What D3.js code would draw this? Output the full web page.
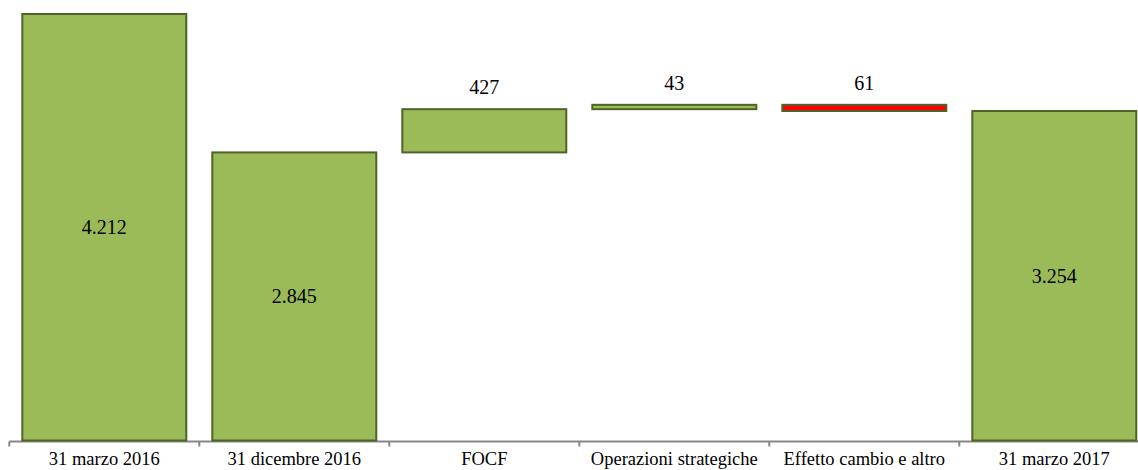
<!DOCTYPE html>
<html>
<head>
<meta charset="utf-8">
<script src="https://cdn.jsdelivr.net/npm/d3@7"></script>
<style>
  body { margin: 0; background: #fff; }
</style>
</head>
<body>
<script>
// waterfall: totals start at 0, deltas float on the running total
var categories = ["31 marzo 2016", "31 dicembre 2016", "FOCF", "Operazioni strategiche", "Effetto cambio e altro", "31 marzo 2017"];
var values = [4212, 2845, 427, 43, -61, 3254];
var kinds = ["total", "total", "delta", "delta", "delta", "total"];

var w = 1138;
var h = 470;
var serif = "'Liberation Serif', 'Times New Roman', serif";

var it = d3.formatLocale({decimal: ",", thousands: ".", grouping: [3], currency: ["", "€"]});
var fmt = it.format(",d");

var bars = [];
var running = 0;
values.forEach(function(v, i) {
  var b = {name: categories[i], value: v, kind: kinds[i]};
  if (kinds[i] == "total") {
    b.start = 0; b.end = v; running = v;
  } else {
    b.start = running; b.end = running + v; running = b.end;
  }
  bars.push(b);
});

var svg = d3.select("body")
  .append("svg")
  .attr("width", w)
  .attr("height", h);

var x = d3.scaleBand()
  .domain(categories)
  .range([9.3, 9.3 + 190 * categories.length])
  .paddingInner(0.137)
  .paddingOuter(0.0685);

var y = d3.scaleLinear()
  .domain([0, 4212])
  .range([440.5, 14]);

// axis line + ticks between categories
var gx = svg.append("g").attr("transform", "translate(0,441.5)");
gx.append("line")
  .attr("x1", 9.3).attr("x2", w)
  .attr("stroke", "#878787").attr("stroke-width", 2);
gx.selectAll(".tk")
  .data(categories)
  .enter()
  .append("line")
  .attr("x1", function(d) { return x(d) - x.step() * x.paddingInner() / 2; })
  .attr("x2", function(d) { return x(d) - x.step() * x.paddingInner() / 2; })
  .attr("y1", 0).attr("y2", 5)
  .attr("stroke", "#878787").attr("stroke-width", 2);

svg.selectAll("rect")
  .data(bars)
  .enter()
  .append("rect")
  .attr("x", function(d) { return x(d.name); })
  .attr("width", x.bandwidth())
  .attr("y", function(d) { return y(Math.max(d.start, d.end)); })
  .attr("height", function(d) { return Math.abs(y(d.start) - y(d.end)); })
  .attr("fill", function(d) { return d.value < 0 ? "#ff0000" : "#9bbb59"; })
  .attr("stroke", "#4f6228")
  .attr("stroke-width", 2);

// value labels: inside for totals, above for deltas
svg.selectAll(".val")
  .data(bars)
  .enter()
  .append("text")
  .attr("class", "val")
  .text(function(d) { return fmt(Math.abs(d.value)); })
  .attr("x", function(d) { return x(d.name) + x.bandwidth() / 2; })
  .attr("y", function(d) {
    if (d.kind == "total") return (y(0) + y(d.end)) / 2;
    return y(Math.max(d.start, d.end)) - 15;
  })
  .attr("dy", function(d) { return d.kind == "total" ? "0.35em" : 0; })
  .attr("font-family", serif)
  .attr("font-size", "20px")
  .attr("fill", "#000")
  .attr("text-anchor", "middle");

svg.selectAll(".cat")
  .data(categories)
  .enter()
  .append("text")
  .attr("class", "cat")
  .text(function(d) { return d; })
  .attr("x", function(d) { return x(d) + x.bandwidth() / 2; })
  .attr("y", 465)
  .attr("font-family", serif)
  .attr("font-size", "18.5px")
  .attr("fill", "#000")
  .attr("text-anchor", "middle");
</script>
</body>
</html>
